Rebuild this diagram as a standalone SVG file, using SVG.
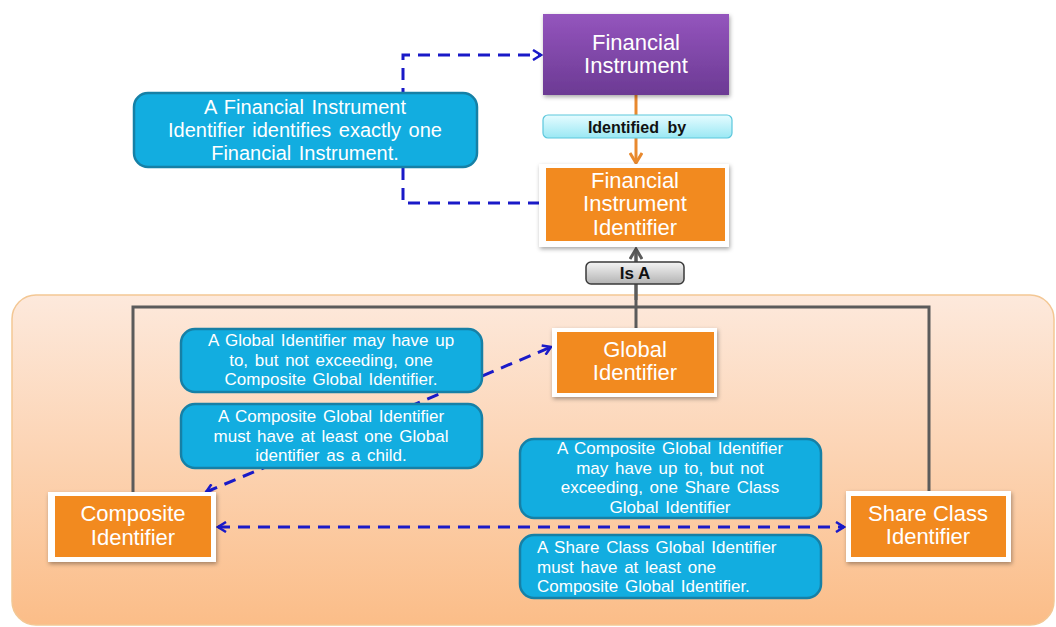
<svg xmlns="http://www.w3.org/2000/svg" width="1056" height="627" viewBox="0 0 1056 627">
<style>
text{font-family:"Liberation Sans",Arial,sans-serif;}
.box{fill:#f28a1f;}
.frame{fill:#ffffff;filter:url(#sh);}
.wt{fill:#ffffff;font-size:22px;text-anchor:middle;}
.note{fill:#12ade0;stroke:#1680a6;stroke-width:2.5;}
.nt{fill:#ffffff;font-size:17px;text-anchor:middle;word-spacing:2px;}
.big{font-size:20px;word-spacing:2px;}
.ntl{fill:#ffffff;font-size:17px;word-spacing:2px;}
.blue{fill:none;stroke:#1a1ac8;stroke-width:3;stroke-dasharray:12 8;}
.gray{fill:none;stroke:#5b5b5b;stroke-width:3;}
.lbl{font-weight:bold;text-anchor:middle;fill:#111;}
</style>
<defs>
<linearGradient id="bg" x1="0" y1="0" x2="0" y2="1">
<stop offset="0" stop-color="#fde9dc"/>
<stop offset="1" stop-color="#fbbd88"/>
</linearGradient>
<linearGradient id="pur" x1="0" y1="0" x2="0" y2="1">
<stop offset="0" stop-color="#9455bd"/>
<stop offset="1" stop-color="#6c3a94"/>
</linearGradient>
<linearGradient id="cy" x1="0" y1="0" x2="0" y2="1">
<stop offset="0" stop-color="#e6fcff"/>
<stop offset="1" stop-color="#9ae8f4"/>
</linearGradient>
<linearGradient id="gr" x1="0" y1="0" x2="0" y2="1">
<stop offset="0" stop-color="#f4f4f4"/>
<stop offset="1" stop-color="#b3b3b3"/>
</linearGradient>
<filter id="sh" x="-10%" y="-10%" width="125%" height="130%">
<feDropShadow dx="1" dy="2" stdDeviation="2" flood-color="#000" flood-opacity="0.35"/>
</filter>
<marker id="ab" viewBox="0 0 12 12" refX="10" refY="6" markerWidth="12" markerHeight="12" markerUnits="userSpaceOnUse" orient="auto-start-reverse">
<path d="M2,1 L10,6 L2,11" fill="none" stroke="#1a1ac8" stroke-width="2.5"/>
</marker>
<marker id="ao" viewBox="0 0 14 14" refX="12" refY="7" markerWidth="14" markerHeight="14" markerUnits="userSpaceOnUse" orient="auto">
<path d="M2,1 L12,7 L2,13" fill="none" stroke="#e8892e" stroke-width="3"/>
</marker>
<marker id="ag" viewBox="0 0 14 14" refX="12" refY="7" markerWidth="14" markerHeight="14" markerUnits="userSpaceOnUse" orient="auto">
<path d="M2,1 L12,7 L2,13" fill="none" stroke="#5b5b5b" stroke-width="3"/>
</marker>
</defs>
<rect width="1056" height="627" fill="#ffffff"/>
<rect id="panel" x="12" y="295" width="1042" height="330" rx="24" fill="url(#bg)" stroke="#f3c794" stroke-width="1.5"/>
<g id="connectors">
<path class="blue" d="M540,203 H403 V55 H541" marker-end="url(#ab)"/>
<line x1="636" y1="95" x2="636" y2="163" stroke="#e8892e" stroke-width="3" marker-end="url(#ao)"/>
<path class="gray" d="M636,328 V307 M133,492 V307 H929 V491 M636,307 V250" />
<line x1="636" y1="300" x2="636" y2="249" stroke="#5b5b5b" stroke-width="3" marker-end="url(#ag)"/>
<line class="blue" x1="206" y1="492" x2="551" y2="347" marker-start="url(#ab)" marker-end="url(#ab)"/>
<line class="blue" x1="218" y1="527" x2="844" y2="527" marker-start="url(#ab)" marker-end="url(#ab)"/>
</g>
<g id="label-identified-by">
<rect x="543" y="115" width="189" height="23" rx="5" fill="url(#cy)" stroke="#5cc7dc" stroke-width="1.2"/>
<text class="lbl" x="637" y="133" style="font-size:16px;word-spacing:4px">Identified by</text>
</g>
<g id="label-is-a">
<rect x="586" y="262" width="98" height="22" rx="5" fill="url(#gr)" stroke="#3a3a3a" stroke-width="1.5"/>
<text class="lbl" x="635" y="279" style="font-size:17px">Is A</text>
</g>
<g id="financial-instrument">
<rect x="543" y="14" width="186" height="81" fill="url(#pur)" filter="url(#sh)"/>
<text class="wt" x="636" y="50">Financial</text>
<text class="wt" x="636" y="73">Instrument</text>
</g>
<g id="financial-instrument-identifier">
<rect class="frame" x="539" y="164" width="190" height="83"/>
<rect class="box" x="546" y="168" width="179" height="73"/>
<text class="wt" x="635" y="188">Financial</text>
<text class="wt" x="635" y="211">Instrument</text>
<text class="wt" x="635" y="235">Identifier</text>
</g>
<g id="note-fi">
<rect class="note" x="134" y="93" width="343" height="74" rx="14"/>
<text class="nt big" x="305" y="114">A Financial Instrument</text>
<text class="nt big" x="305" y="137">Identifier identifies exactly one</text>
<text class="nt big" x="305" y="160">Financial Instrument.</text>
</g>
<g id="global-identifier">
<rect class="frame" x="552" y="328" width="165" height="69"/>
<rect class="box" x="557" y="332" width="157" height="61"/>
<text class="wt" x="635" y="357">Global</text>
<text class="wt" x="635" y="380">Identifier</text>
</g>
<g id="composite-identifier">
<rect class="frame" x="48" y="492" width="168" height="70"/>
<rect class="box" x="55" y="496" width="156" height="61"/>
<text class="wt" x="133" y="521">Composite</text>
<text class="wt" x="133" y="545">Identifier</text>
</g>
<g id="share-class-identifier">
<rect class="frame" x="846" y="491" width="165" height="71"/>
<rect class="box" x="851" y="496" width="155" height="61"/>
<text class="wt" x="928" y="521">Share Class</text>
<text class="wt" x="928" y="544">Identifier</text>
</g>
<g id="note-gi">
<rect class="note" x="181" y="329" width="301" height="63" rx="14"/>
<text class="nt" x="331" y="346">A Global Identifier may have up</text>
<text class="nt" x="331" y="366">to, but not exceeding, one</text>
<text class="nt" x="331" y="385">Composite Global Identifier.</text>
</g>
<g id="note-cg">
<rect class="note" x="181" y="404" width="301" height="64" rx="14"/>
<text class="nt" x="331" y="422">A Composite Global Identifier</text>
<text class="nt" x="331" y="442">must have at least one Global</text>
<text class="nt" x="331" y="461">identifier as a child.</text>
</g>
<g id="note-csc">
<rect class="note" x="520" y="439" width="301" height="79" rx="14"/>
<text class="nt" x="670" y="454">A Composite Global Identifier</text>
<text class="nt" x="670" y="474">may have up to, but not</text>
<text class="nt" x="670" y="493">exceeding, one Share Class</text>
<text class="nt" x="670" y="513">Global Identifier</text>
</g>
<g id="note-scc">
<rect class="note" x="520" y="535" width="301" height="63" rx="14"/>
<text class="ntl" x="537" y="553">A Share Class Global Identifier</text>
<text class="ntl" x="537" y="573">must have at least one</text>
<text class="ntl" x="537" y="592">Composite Global Identifier.</text>
</g>
</svg>
